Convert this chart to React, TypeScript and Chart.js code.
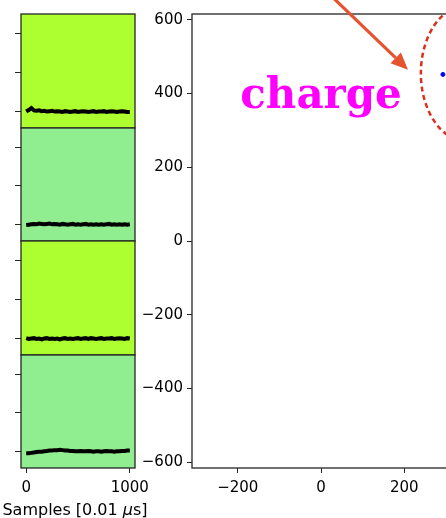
import React, { useEffect, useRef } from "react";
import { Chart, registerables } from "chart.js";

Chart.register(...registerables);
Chart.defaults.font.family = "'DejaVu Sans', sans-serif";
Chart.defaults.color = "#000";

// ---------------- data ----------------
const SAMPLE_X = [
  0, 25, 50, 75, 100, 125, 150, 175, 200, 225, 250, 275, 300, 325, 350, 375, 400, 425, 450, 475,
  500, 525, 550, 575, 600, 625, 650, 675, 700, 725, 750, 775, 800, 825, 850, 875, 900, 925, 950, 975, 1000,
];
const WAVE_1 = [
  0.0, 0.04, 0.09, 0.03, 0.02, 0.03, 0.01, 0.02, 0.0, 0.01, 0.02, 0.0, 0.01, 0.0, -0.01, 0.01, 0.0, -0.01, 0.0, 0.01,
  -0.01, 0.0, 0.01, 0.0, -0.01, 0.0, 0.01, -0.01, 0.0, 0.0, 0.01, -0.01, 0.0, 0.01, 0.0, -0.01, 0.0, 0.01, 0.0, -0.01, -0.01,
];
const WAVE_2 = [
  -0.01, 0.0, 0.01, 0.02, 0.01, 0.03, 0.02, 0.01, 0.02, 0.03, 0.01, 0.02, 0.01, 0.0, 0.02, 0.01, 0.0, 0.01, 0.02, 0.0,
  0.01, 0.0, 0.01, 0.02, 0.0, 0.01, 0.0, 0.01, 0.0, 0.01, 0.0, 0.01, 0.02, 0.0, 0.01, 0.0, 0.01, 0.0, 0.01, 0.0, 0.01,
];
const WAVE_3 = [
  0.01, -0.01, 0.0, 0.01, -0.01, 0.0, -0.02, 0.0, 0.01, -0.01, 0.0, -0.01, 0.0, -0.02, 0.0, 0.01, -0.01, 0.0, -0.01, 0.0,
  0.01, -0.01, 0.0, 0.01, -0.01, 0.01, 0.0, -0.01, 0.0, 0.01, -0.01, 0.0, 0.0, 0.01, -0.01, 0.0, 0.01, 0.0, -0.01, 0.01, 0.0,
];
const WAVE_4 = [
  -0.04, -0.04, -0.03, -0.02, -0.01, 0.0, 0.0, 0.01, 0.02, 0.03, 0.03, 0.04, 0.04, 0.05, 0.04, 0.03, 0.03, 0.02, 0.02, 0.01,
  0.01, 0.02, 0.01, 0.01, 0.02, 0.01, 0.0, 0.01, 0.01, 0.0, 0.01, 0.02, 0.01, 0.01, 0.0, 0.01, 0.01, 0.02, 0.02, 0.03, 0.03,
];
const WAVES = [WAVE_1, WAVE_2, WAVE_3, WAVE_4];
const PANEL_COLORS = ["#adff2f", "#90ee90", "#adff2f", "#90ee90"];
const WAVE_TICKS = [0, 1, 2];
const SAMPLE_TICKS = [0, 1000];
const SAMPLE_LABEL_PARTS = ["Samples [0.01 ", "\u03bc", "s]"];

const CHARGE_X = [293];
const CHARGE_Y = [452];
const SCATTER_X_TICKS = [-200, 0, 200, 400];
const SCATTER_Y_TICKS = [-600, -400, -200, 0, 200, 400, 600];
const ANNOTATION_TEXT = "charge";

// ---------------- layout / annotation geometry ----------------
const PANEL_EDGES = [14, 128, 241, 355, 468];
const LABEL_POS = { x: -194, y: 362 };
const ELLIPSE = { cx: 350, cy: 455, rx: 110, ry: 184 };
const ARROW = { fromX: -4, fromY: 696, toX: 209, toY: 465 };

const fmt = (v: number) => (v < 0 ? "\u2212" + Math.abs(v) : String(v));

const framePlugin = {
  id: "frame",
  beforeDraw(chart: any, _a: any, opts: any) {
    const { ctx, chartArea: a } = chart;
    if (opts && opts.bg) {
      ctx.save();
      ctx.fillStyle = opts.bg;
      ctx.fillRect(a.left, a.top, a.right - a.left, a.bottom - a.top);
      ctx.restore();
    }
  },
  afterDraw(chart: any) {
    const { ctx, chartArea: a } = chart;
    ctx.save();
    ctx.strokeStyle = "#262626";
    ctx.lineWidth = 1.3;
    ctx.strokeRect(a.left, a.top, a.right - a.left, a.bottom - a.top);
    ctx.restore();
  },
};

const xTitlePlugin = {
  id: "xtitle",
  afterDraw(chart: any, _a: any, opts: any) {
    if (!opts || !opts.parts) return;
    const { ctx } = chart;
    ctx.save();
    ctx.fillStyle = "#000";
    ctx.textBaseline = "alphabetic";
    const fonts = opts.parts.map((_p: string, i: number) =>
      (i === 1 ? "italic " : "") + "16px 'DejaVu Sans', sans-serif"
    );
    let total = 0;
    opts.parts.forEach((p: string, i: number) => {
      ctx.font = fonts[i];
      total += ctx.measureText(p).width;
    });
    let x = opts.cx - total / 2;
    opts.parts.forEach((p: string, i: number) => {
      ctx.font = fonts[i];
      ctx.fillText(p, x, opts.y);
      x += ctx.measureText(p).width;
    });
    ctx.restore();
  },
};

const annotPlugin = {
  id: "annot",
  afterDraw(chart: any) {
    const { ctx, chartArea: a, scales } = chart;
    const x = scales.x;
    const y = scales.y;
    // dashed ellipse, clipped to axes
    ctx.save();
    ctx.beginPath();
    ctx.rect(a.left, a.top, a.right - a.left, a.bottom - a.top);
    ctx.clip();
    const cx = x.getPixelForValue(ELLIPSE.cx);
    const cy = y.getPixelForValue(ELLIPSE.cy);
    const rx = Math.abs(x.getPixelForValue(ELLIPSE.cx + ELLIPSE.rx) - cx);
    const ry = Math.abs(y.getPixelForValue(ELLIPSE.cy + ELLIPSE.ry) - cy);
    ctx.setLineDash([5, 3.5]);
    ctx.lineWidth = 2.5;
    ctx.strokeStyle = "#d9311f";
    ctx.beginPath();
    ctx.ellipse(cx, cy, rx, ry, 0, 0, Math.PI * 2);
    ctx.stroke();
    ctx.restore();

    // text
    ctx.save();
    ctx.font = "bold 42px 'DejaVu Serif', serif";
    ctx.fillStyle = "#ff00ff";
    ctx.textBaseline = "alphabetic";
    ctx.textAlign = "left";
    ctx.fillText(ANNOTATION_TEXT, x.getPixelForValue(LABEL_POS.x), y.getPixelForValue(LABEL_POS.y));
    ctx.restore();

    // arrow
    const x0 = x.getPixelForValue(ARROW.fromX);
    const y0 = y.getPixelForValue(ARROW.fromY);
    const x1 = x.getPixelForValue(ARROW.toX);
    const y1 = y.getPixelForValue(ARROW.toY);
    const ang = Math.atan2(y1 - y0, x1 - x0);
    const headLen = 17;
    const headHalf = 7.5;
    const bx = x1 - headLen * Math.cos(ang);
    const by = y1 - headLen * Math.sin(ang);
    ctx.save();
    ctx.strokeStyle = "#e5532f";
    ctx.fillStyle = "#e5532f";
    ctx.lineWidth = 3.2;
    ctx.beginPath();
    ctx.moveTo(x0, y0);
    ctx.lineTo(bx, by);
    ctx.stroke();
    ctx.beginPath();
    ctx.moveTo(x1, y1);
    ctx.lineTo(bx + headHalf * Math.sin(ang), by - headHalf * Math.cos(ang));
    ctx.lineTo(bx - headHalf * Math.sin(ang), by + headHalf * Math.cos(ang));
    ctx.closePath();
    ctx.fill();
    ctx.restore();
  },
};

export default function App() {
  const leftRefs = [
    useRef<HTMLCanvasElement>(null),
    useRef<HTMLCanvasElement>(null),
    useRef<HTMLCanvasElement>(null),
    useRef<HTMLCanvasElement>(null),
  ];
  const rightRef = useRef<HTMLCanvasElement>(null);

  const leftGeom = [0, 1, 2, 3].map((i) => {
    const top = PANEL_EDGES[i] - 2;
    const height = i < 3 ? PANEL_EDGES[i + 1] - PANEL_EDGES[i] + 4 : 518 - top;
    return { top, height };
  });

  useEffect(() => {
    const charts: Chart[] = [];
    WAVES.forEach((wave, i) => {
      const canvas = leftRefs[i].current;
      if (!canvas) return;
      const isBottom = i === 3;
      const c = new Chart(canvas, {
        type: "line",
        data: {
          datasets: [
            {
              data: SAMPLE_X.map((sx, k) => ({ x: sx, y: wave[k] })),
              borderColor: "#000",
              borderWidth: 4,
              pointRadius: 0,
              tension: 0,
              fill: false,
            },
          ],
        },
        options: {
          animation: false,
          responsive: false,
          maintainAspectRatio: false,
          devicePixelRatio: 1,
          events: [],
          layout: { padding: { top: 2, bottom: isBottom ? 0 : 2, left: 0, right: 25 } },
          plugins: {
            legend: { display: false },
            tooltip: { enabled: false },
            frame: { bg: PANEL_COLORS[i] },
            xtitle: isBottom ? { parts: SAMPLE_LABEL_PARTS, cx: 75, y: 162 } : {},
          } as any,
          scales: {
            x: {
              type: "linear",
              min: -50,
              max: 1050,
              display: isBottom,
              afterBuildTicks: (s: any) => {
                s.ticks = SAMPLE_TICKS.map((value) => ({ value }));
              },
              afterFit: (s: any) => {
                s.height = isBottom ? 50 : 0;
              },
              ticks: {
                callback: (v: any) => fmt(Number(v)),
                font: { size: 15 },
                color: "#000",
                padding: 6,
                maxRotation: 0,
                autoSkip: false,
              },
              grid: { drawOnChartArea: false, drawTicks: true, tickLength: 5, color: "#262626" },
              border: { display: false },
            },
            y: {
              type: "linear",
              min: -0.42,
              max: 2.49,
              afterBuildTicks: (s: any) => {
                s.ticks = WAVE_TICKS.map((value) => ({ value }));
              },
              afterFit: (s: any) => {
                s.width = 21;
              },
              ticks: { display: false },
              grid: { drawOnChartArea: false, drawTicks: true, tickLength: 6, color: "#262626" },
              border: { display: false },
            },
          },
        },
        plugins: [framePlugin, xTitlePlugin],
      });
      charts.push(c);
    });

    if (rightRef.current) {
      const c = new Chart(rightRef.current, {
        type: "scatter",
        data: {
          datasets: [
            {
              data: CHARGE_X.map((cx, k) => ({ x: cx, y: CHARGE_Y[k] })),
              backgroundColor: "#0000ff",
              borderColor: "#0000ff",
              pointRadius: 2,
            },
          ],
        },
        options: {
          animation: false,
          responsive: false,
          maintainAspectRatio: false,
          devicePixelRatio: 1,
          events: [],
          layout: { padding: { top: 14, right: 20, bottom: 0, left: 0 } },
          plugins: {
            legend: { display: false },
            tooltip: { enabled: false },
            frame: {},
          } as any,
          scales: {
            x: {
              type: "linear",
              min: -310,
              max: 310,
              afterBuildTicks: (s: any) => {
                s.ticks = SCATTER_X_TICKS.filter((v) => v >= s.min && v <= s.max).map((value) => ({ value }));
              },
              afterFit: (s: any) => {
                s.height = 50;
              },
              ticks: {
                callback: (v: any) => fmt(Number(v)),
                font: { size: 15 },
                color: "#000",
                padding: 6,
                maxRotation: 0,
                autoSkip: false,
              },
              grid: { drawOnChartArea: false, drawTicks: true, tickLength: 5, color: "#262626" },
              border: { display: false },
            },
            y: {
              type: "linear",
              min: -616,
              max: 616,
              afterBuildTicks: (s: any) => {
                s.ticks = SCATTER_Y_TICKS.map((value) => ({ value }));
              },
              afterFit: (s: any) => {
                s.width = 62;
              },
              ticks: {
                callback: (v: any) => fmt(Number(v)),
                font: { size: 15 },
                color: "#000",
                padding: 4,
                autoSkip: false,
              },
              grid: { drawOnChartArea: false, drawTicks: true, tickLength: 5, color: "#262626" },
              border: { display: false },
            },
          },
        },
        plugins: [framePlugin, annotPlugin],
      });
      charts.push(c);
    }

    return () => {
      charts.forEach((c) => c.destroy());
    };
  }, []);

  return (
    <div
      style={{
        position: "fixed",
        left: 0,
        top: 0,
        width: 446,
        height: 518,
        overflow: "hidden",
        background: "#fff",
      }}
    >
      {leftGeom.map((g, i) => (
        <canvas
          key={i}
          ref={leftRefs[i]}
          width={160}
          height={g.height}
          style={{ position: "absolute", left: 0, top: g.top, width: 160, height: g.height }}
        />
      ))}
      <canvas
        ref={rightRef}
        width={340}
        height={518}
        style={{ position: "absolute", left: 130, top: 0, width: 340, height: 518 }}
      />
    </div>
  );
}
